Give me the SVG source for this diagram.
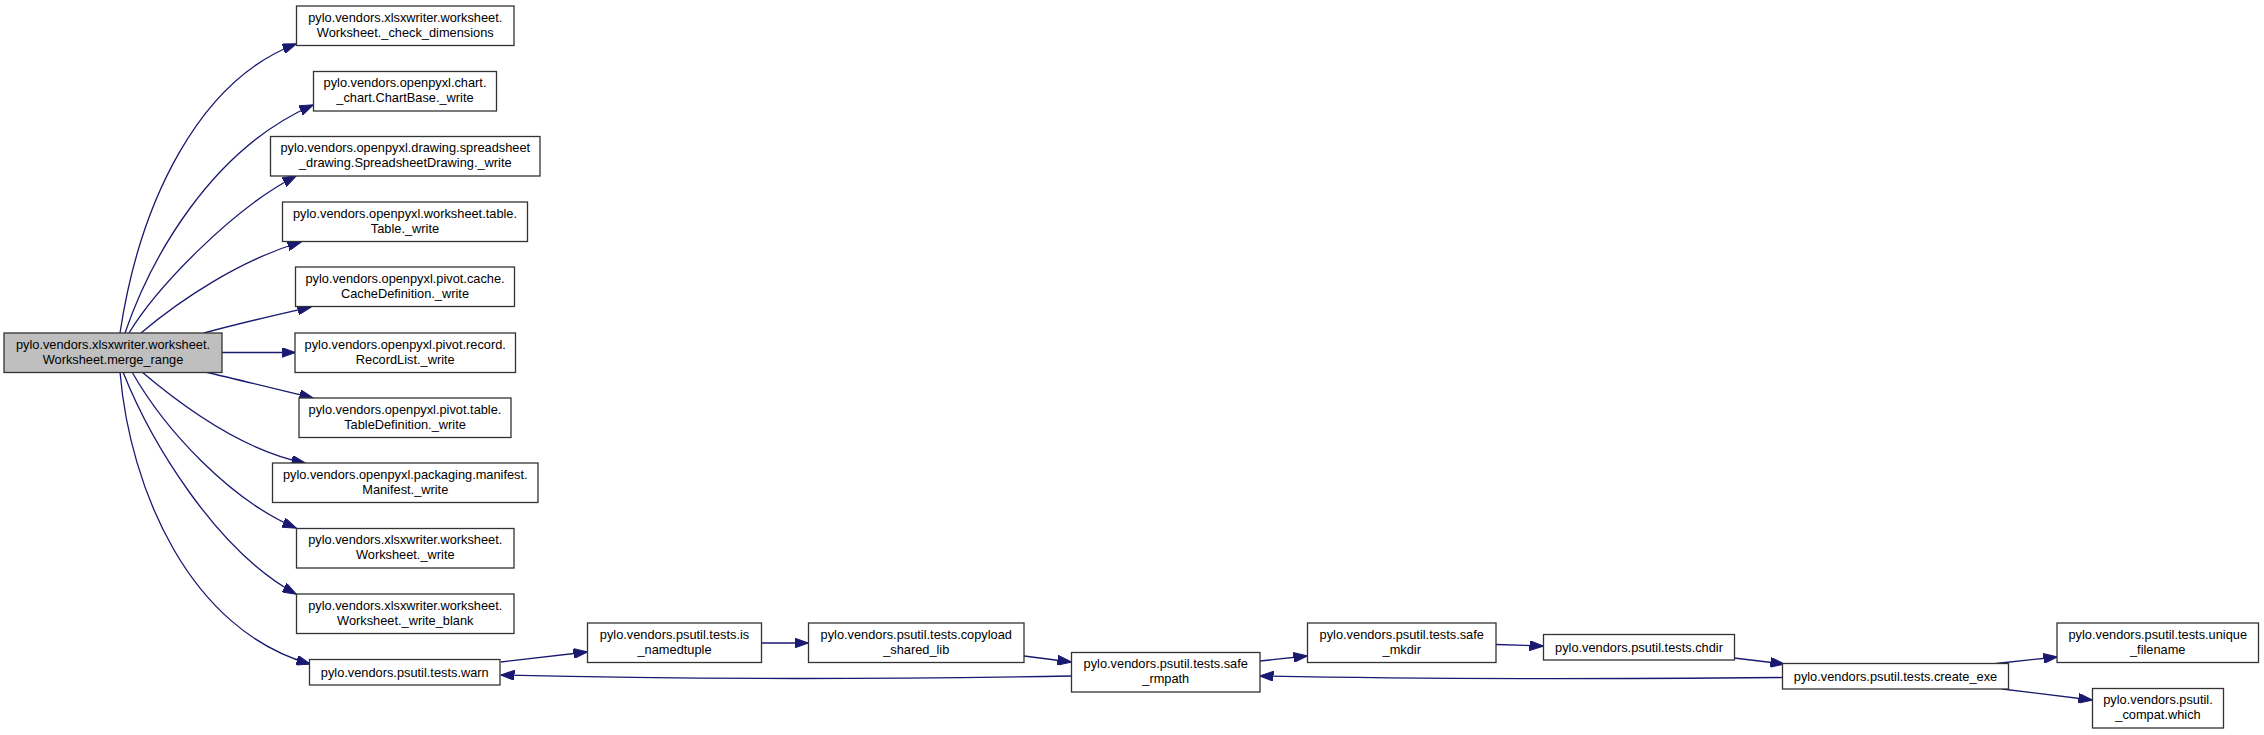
<svg xmlns="http://www.w3.org/2000/svg" width="2264" height="735" viewBox="0 0 2264 735">
<style>
.node rect{fill:#ffffff;stroke:#333333;stroke-width:1.3}
.node.main rect{fill:#bfbfbf}
text{font-family:"Liberation Sans",Arial,sans-serif;font-size:12.8px;fill:#000000;text-anchor:middle}
.edges path{fill:none;stroke:#191970;stroke-width:1.3}
</style>
<defs>
<marker id="arr" markerUnits="userSpaceOnUse" markerWidth="14" markerHeight="10" viewBox="0 0 14 10" refX="13.5" refY="5" orient="auto">
<path d="M0,0 L14,5 L0,10 z" fill="#191970" stroke="#191970" stroke-width="1"/>
</marker>
</defs>
<rect x="0" y="0" width="2264" height="735" fill="#ffffff"/>
<g class="edges" id="edges">
<path marker-end="url(#arr)" d="M120,333 C140,200 200,80 296,44"/>
<path marker-end="url(#arr)" d="M125,333 C150,260 210,150 313,105"/>
<path marker-end="url(#arr)" d="M129,333 C155,290 230,210 296,176"/>
<path marker-end="url(#arr)" d="M141,333 C180,300 240,260 301,242"/>
<path marker-end="url(#arr)" d="M204,333 C240,323 280,314 311,307"/>
<path marker-end="url(#arr)" d="M222,352.5 L295,352.5"/>
<path marker-end="url(#arr)" d="M205,372 C240,380 280,390 313,398"/>
<path marker-end="url(#arr)" d="M142,372 C175,400 240,450 305,463"/>
<path marker-end="url(#arr)" d="M132,372 C165,430 230,500 296,528"/>
<path marker-end="url(#arr)" d="M123,372 C150,440 215,550 296,594"/>
<path marker-end="url(#arr)" d="M120,372 C130,490 190,630 310,664"/>
<path marker-end="url(#arr)" d="M501,662 L587,652"/>
<path marker-end="url(#arr)" d="M761,643 L808,643"/>
<path marker-end="url(#arr)" d="M1024,656 L1071,662"/>
<path marker-end="url(#arr)" d="M1071,676 C900,679 700,680 501,675"/>
<path marker-end="url(#arr)" d="M1260,661 L1307,656"/>
<path marker-end="url(#arr)" d="M1496,644.5 L1543,646"/>
<path marker-end="url(#arr)" d="M1734,658 L1784,664"/>
<path marker-end="url(#arr)" d="M1782,677.5 C1600,679 1400,679 1260,676"/>
<path marker-end="url(#arr)" d="M1996,663.5 L2057,657"/>
<path marker-end="url(#arr)" d="M2002,689 L2092,700"/>
</g>
<g class="node main" id="node_merge_range"><rect x="4" y="333" width="218" height="39.5"/><text x="113" y="348.5">pylo.vendors.xlsxwriter.worksheet.</text><text x="113" y="363.5">Worksheet.merge_range</text></g>
<g class="node" id="node_check_dimensions"><rect x="296.5" y="6" width="217.5" height="39.5"/><text x="405.25" y="21.5">pylo.vendors.xlsxwriter.worksheet.</text><text x="405.25" y="36.5">Worksheet._check_dimensions</text></g>
<g class="node" id="node_chartbase_write"><rect x="313.5" y="71.5" width="183" height="39.5"/><text x="405" y="87">pylo.vendors.openpyxl.chart.</text><text x="405" y="102">_chart.ChartBase._write</text></g>
<g class="node" id="node_spreadsheetdrawing_write"><rect x="270.5" y="136.5" width="269.5" height="39.5"/><text x="405.25" y="152">pylo.vendors.openpyxl.drawing.spreadsheet</text><text x="405.25" y="167">_drawing.SpreadsheetDrawing._write</text></g>
<g class="node" id="node_table_write"><rect x="282.5" y="202" width="245" height="39.5"/><text x="405" y="217.5">pylo.vendors.openpyxl.worksheet.table.</text><text x="405" y="232.5">Table._write</text></g>
<g class="node" id="node_cachedefinition_write"><rect x="295.5" y="267" width="219" height="39.5"/><text x="405" y="282.5">pylo.vendors.openpyxl.pivot.cache.</text><text x="405" y="297.5">CacheDefinition._write</text></g>
<g class="node" id="node_recordlist_write"><rect x="295" y="333" width="220.5" height="39.5"/><text x="405.25" y="348.5">pylo.vendors.openpyxl.pivot.record.</text><text x="405.25" y="363.5">RecordList._write</text></g>
<g class="node" id="node_tabledefinition_write"><rect x="299" y="398" width="212" height="39.5"/><text x="405" y="413.5">pylo.vendors.openpyxl.pivot.table.</text><text x="405" y="428.5">TableDefinition._write</text></g>
<g class="node" id="node_manifest_write"><rect x="272.5" y="463" width="265.5" height="39.5"/><text x="405.25" y="478.5">pylo.vendors.openpyxl.packaging.manifest.</text><text x="405.25" y="493.5">Manifest._write</text></g>
<g class="node" id="node_worksheet_write"><rect x="296.5" y="528.5" width="217.5" height="39.5"/><text x="405.25" y="544">pylo.vendors.xlsxwriter.worksheet.</text><text x="405.25" y="559">Worksheet._write</text></g>
<g class="node" id="node_write_blank"><rect x="296.5" y="594" width="217.5" height="39.5"/><text x="405.25" y="609.5">pylo.vendors.xlsxwriter.worksheet.</text><text x="405.25" y="624.5">Worksheet._write_blank</text></g>
<g class="node" id="node_warn"><rect x="309.5" y="659.5" width="190.5" height="25.5"/><text x="404.75" y="677">pylo.vendors.psutil.tests.warn</text></g>
<g class="node" id="node_is_namedtuple"><rect x="587.5" y="623" width="174" height="39.5"/><text x="674.5" y="638.5">pylo.vendors.psutil.tests.is</text><text x="674.5" y="653.5">_namedtuple</text></g>
<g class="node" id="node_copyload_shared_lib"><rect x="808.5" y="623" width="215.5" height="39.5"/><text x="916.25" y="638.5">pylo.vendors.psutil.tests.copyload</text><text x="916.25" y="653.5">_shared_lib</text></g>
<g class="node" id="node_safe_rmpath"><rect x="1071.5" y="652.5" width="188.5" height="39.5"/><text x="1165.75" y="668">pylo.vendors.psutil.tests.safe</text><text x="1165.75" y="683">_rmpath</text></g>
<g class="node" id="node_safe_mkdir"><rect x="1307.5" y="623" width="188.5" height="39.5"/><text x="1401.75" y="638.5">pylo.vendors.psutil.tests.safe</text><text x="1401.75" y="653.5">_mkdir</text></g>
<g class="node" id="node_chdir"><rect x="1543.5" y="634.5" width="191" height="25.5"/><text x="1639" y="652">pylo.vendors.psutil.tests.chdir</text></g>
<g class="node" id="node_create_exe"><rect x="1782.5" y="663.5" width="226" height="25.5"/><text x="1895.5" y="681">pylo.vendors.psutil.tests.create_exe</text></g>
<g class="node" id="node_unique_filename"><rect x="2057" y="623" width="201.5" height="39.5"/><text x="2157.75" y="638.5">pylo.vendors.psutil.tests.unique</text><text x="2157.75" y="653.5">_filename</text></g>
<g class="node" id="node_compat_which"><rect x="2092.5" y="688.5" width="131" height="39.5"/><text x="2158" y="704">pylo.vendors.psutil.</text><text x="2158" y="719">_compat.which</text></g>
</svg>
